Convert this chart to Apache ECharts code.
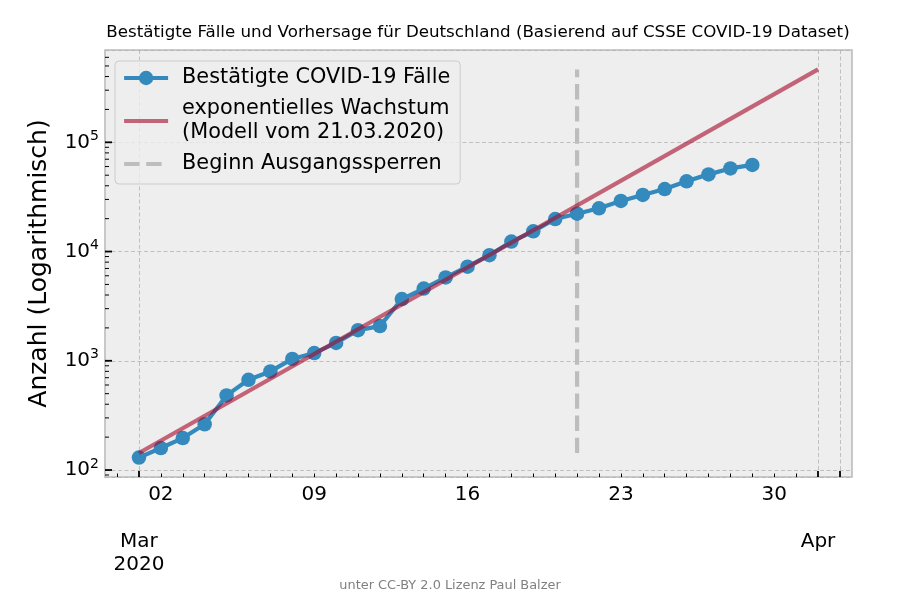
<!DOCTYPE html>
<html>
<head>
<meta charset="utf-8">
<script src="https://cdn.jsdelivr.net/npm/echarts@6/dist/echarts.min.js"></script>
<style>html,body{margin:0;padding:0;background:#fff}#chart{width:900px;height:600px}</style>
</head>
<body>
<div id="chart"></div>
<script>
// ---- data ----
const dates = ['2020-03-01','2020-03-02','2020-03-03','2020-03-04','2020-03-05','2020-03-06','2020-03-07',
  '2020-03-08','2020-03-09','2020-03-10','2020-03-11','2020-03-12','2020-03-13','2020-03-14','2020-03-15',
  '2020-03-16','2020-03-17','2020-03-18','2020-03-19','2020-03-20','2020-03-21','2020-03-22','2020-03-23',
  '2020-03-24','2020-03-25','2020-03-26','2020-03-27','2020-03-28','2020-03-29'];
const confirmed = [130,159,196,262,482,670,799,1040,1176,1457,1908,2078,3675,4585,5795,7272,9257,
  12327,15320,19848,22213,24873,29056,32986,37323,43938,50871,57695,62095];
const modelDates = ['2020-03-01','2020-04-01'];
const modelValues = [143, 465000];
const lockdownDate = '2020-03-21';
const xDayLabelDates = ['2020-03-02','2020-03-09','2020-03-16','2020-03-23','2020-03-30'];
const xMonthLabelDates = ['2020-03-01','2020-04-01'];
const xMajorTickDates = ['2020-03-01','2020-04-01','2020-04-02'];
const xMinorTickDates = ['2020-02-29','2020-03-02','2020-03-03','2020-03-04','2020-03-05','2020-03-06','2020-03-07',
  '2020-03-08','2020-03-09','2020-03-10','2020-03-11','2020-03-12','2020-03-13','2020-03-14','2020-03-15',
  '2020-03-16','2020-03-17','2020-03-18','2020-03-19','2020-03-20','2020-03-21','2020-03-22','2020-03-23',
  '2020-03-24','2020-03-25','2020-03-26','2020-03-27','2020-03-28','2020-03-29','2020-03-30','2020-03-31'];
const monthNames = ['Jan','Feb','Mar','Apr','May','Jun','Jul','Aug','Sep','Oct','Nov','Dec'];
const yMajorTicks = [100, 1000, 10000, 100000];
const yMinorTicks = [90, 200,300,400,500,600,700,800,900, 2000,3000,4000,5000,6000,7000,8000,9000,
  20000,30000,40000,50000,60000,70000,80000,90000, 200000,300000,400000,500000,600000];

const titleText = 'Bestätigte Fälle und Vorhersage für Deutschland (Basierend auf CSSE COVID-19 Dataset)';
const footerText = 'unter CC-BY 2.0 Lizenz Paul Balzer';
const nameConfirmed = 'Bestätigte COVID-19 Fälle';
const nameModel = 'exponentielles Wachstum\n(Modell vom 21.03.2020)';
const nameLockdown = 'Beginn Ausgangssperren';
const yName = 'Anzahl (Logarithmisch)';

// ---- view ----
const DAY = 86400000;
const ts = s => Date.parse(s);
const xMin = ts('2020-03-01') - 1.55 * DAY;
const xMax = ts('2020-04-01') + 1.55 * DAY;
const yMin = 86.3, yMax = 700000;
const FONT = 'DejaVu Sans';
const BLUE = '#348ABD', RED = 'rgba(166,6,40,0.6)', GRAY = '#bdbdbd';

const chart = echarts.init(document.getElementById('chart'), null, {renderer: 'canvas'});

function tickSeries(values, len, width) {
  return {
    type: 'custom', silent: true, clip: false, z: 5,
    coordinateSystem: 'cartesian2d', xAxisIndex: 0, yAxisIndex: 0,
    data: values.map(v => [xMin, v]),
    encode: {x: 0, y: 1},
    renderItem: function (params, api) {
      const p = api.coord([api.value(0), api.value(1)]);
      return {type: 'line', shape: {x1: p[0], y1: p[1], x2: p[0] + len, y2: p[1]},
        style: {stroke: '#000', lineWidth: width}};
    }
  };
}

const option = {
  animation: false,
  backgroundColor: '#ffffff',
  textStyle: {fontFamily: FONT},
  graphic: [
    {type: 'text', x: 478, y: 32.5, silent: true,
      style: {text: titleText, font: '16.7px "DejaVu Sans"', fill: '#000',
        align: 'center', verticalAlign: 'middle', textAlign: 'center', textVerticalAlign: 'middle'}},
    {type: 'text', x: 450, y: 585.5, silent: true,
      style: {text: footerText, font: '12.9px "DejaVu Sans"', fill: '#808080',
        align: 'center', verticalAlign: 'middle', textAlign: 'center', textVerticalAlign: 'middle'}}
  ],
  grid: {left: 105, right: 48, top: 50, bottom: 123, show: true,
    backgroundColor: '#eeeeee', borderColor: '#bcbcbc', borderWidth: 1.6},
  legend: {
    data: [
      {name: nameConfirmed, lineStyle: {width: 4, color: BLUE}, itemStyle: {color: BLUE}},
      {name: nameModel, lineStyle: {width: 4.2, color: RED}, itemStyle: {opacity: 0}},
      {name: nameLockdown, lineStyle: {width: 4.2, color: GRAY, type: [15.4, 6.7]}, itemStyle: {opacity: 0}}
    ],
    orient: 'vertical', left: 115, top: 61,
    itemWidth: 44, itemHeight: 18, itemGap: 7,
    padding: [5, 10, 8, 7],
    backgroundColor: 'rgba(238,238,238,0.8)', borderColor: '#cccccc', borderWidth: 1, borderRadius: 4,
    textStyle: {fontFamily: FONT, fontSize: 20.8, color: '#000', lineHeight: 24, padding: [0, 0, 0, 9]}
  },
  xAxis: [
    {
      type: 'value', min: xMin, max: xMax, position: 'bottom',
      axisLine: {show: false},
      axisTick: {show: true, inside: true, length: 6, customValues: xMajorTickDates.map(ts),
        lineStyle: {color: '#000', width: 1.8}},
      axisLabel: {show: true, customValues: xDayLabelDates.map(ts), margin: 6, hideOverlap: false,
        fontFamily: FONT, fontSize: 20, color: '#000', lineHeight: 23.5,
        formatter: function (v) {
          return String(new Date(v).getUTCDate()).padStart(2, '0');
        }},
      splitLine: {show: true, lineStyle: {color: '#b2b2b2', width: 0.8, type: [4, 2.5]}}
    },
    {
      type: 'value', min: xMin, max: xMax, position: 'bottom',
      axisLine: {show: false},
      axisTick: {show: true, inside: true, length: 3.5, customValues: xMinorTickDates.map(ts),
        lineStyle: {color: '#000', width: 1}},
      axisLabel: {show: true, customValues: xMonthLabelDates.map(ts), margin: 53, hideOverlap: false,
        fontFamily: FONT, fontSize: 20, color: '#000', lineHeight: 23.5,
        formatter: function (v) {
          const d = new Date(v);
          return monthNames[d.getUTCMonth()] + (d.getUTCMonth() === 2 ? '\n' + d.getUTCFullYear() : '');
        }},
      splitLine: {show: false}
    }
  ],
  yAxis: {
    type: 'log', logBase: 10, min: yMin, max: yMax,
    name: yName, nameLocation: 'middle', nameGap: 53,
    nameTextStyle: {fontFamily: FONT, fontSize: 25, color: '#000'},
    axisLine: {show: false},
    axisTick: {show: false},
    axisLabel: {
      margin: 6,
      formatter: function (v) {
        const e = Math.log10(v), r = Math.round(e);
        if (Math.abs(e - r) > 1e-6) return '';
        return '{b|10}{s|' + r + '}';
      },
      rich: {
        b: {fontFamily: FONT, fontSize: 20, color: '#000', lineHeight: 26, verticalAlign: 'middle'},
        s: {fontFamily: FONT, fontSize: 14, color: '#000', lineHeight: 16, verticalAlign: 'top'}
      }
    },
    splitLine: {show: true, lineStyle: {color: '#b2b2b2', width: 0.8, type: [4, 2.5]}}
  },
  series: [
    {
      name: nameLockdown, type: 'line', z: 1, silent: true,
      data: [[ts(lockdownDate), Math.min(...modelValues)], [ts(lockdownDate), Math.max(...modelValues)]],
      symbol: 'none', color: GRAY,
      lineStyle: {color: GRAY, width: 4.2, type: [15.4, 6.7]}
    },
    {
      name: nameConfirmed, type: 'line', z: 2,
      data: dates.map((d, i) => [ts(d), confirmed[i]]),
      symbol: 'circle', symbolSize: 14.5, showSymbol: true, color: BLUE,
      itemStyle: {color: BLUE},
      lineStyle: {color: BLUE, width: 4.2}
    },
    {
      name: nameModel, type: 'line', z: 3,
      data: modelDates.map((d, i) => [ts(d), modelValues[i]]),
      symbol: 'none', color: RED,
      lineStyle: {color: RED, width: 4.2}
    },
    tickSeries(yMajorTicks, 7, 1.8),
    tickSeries(yMinorTicks, 4, 1)
  ]
};
chart.setOption(option);
</script>
</body>
</html>
